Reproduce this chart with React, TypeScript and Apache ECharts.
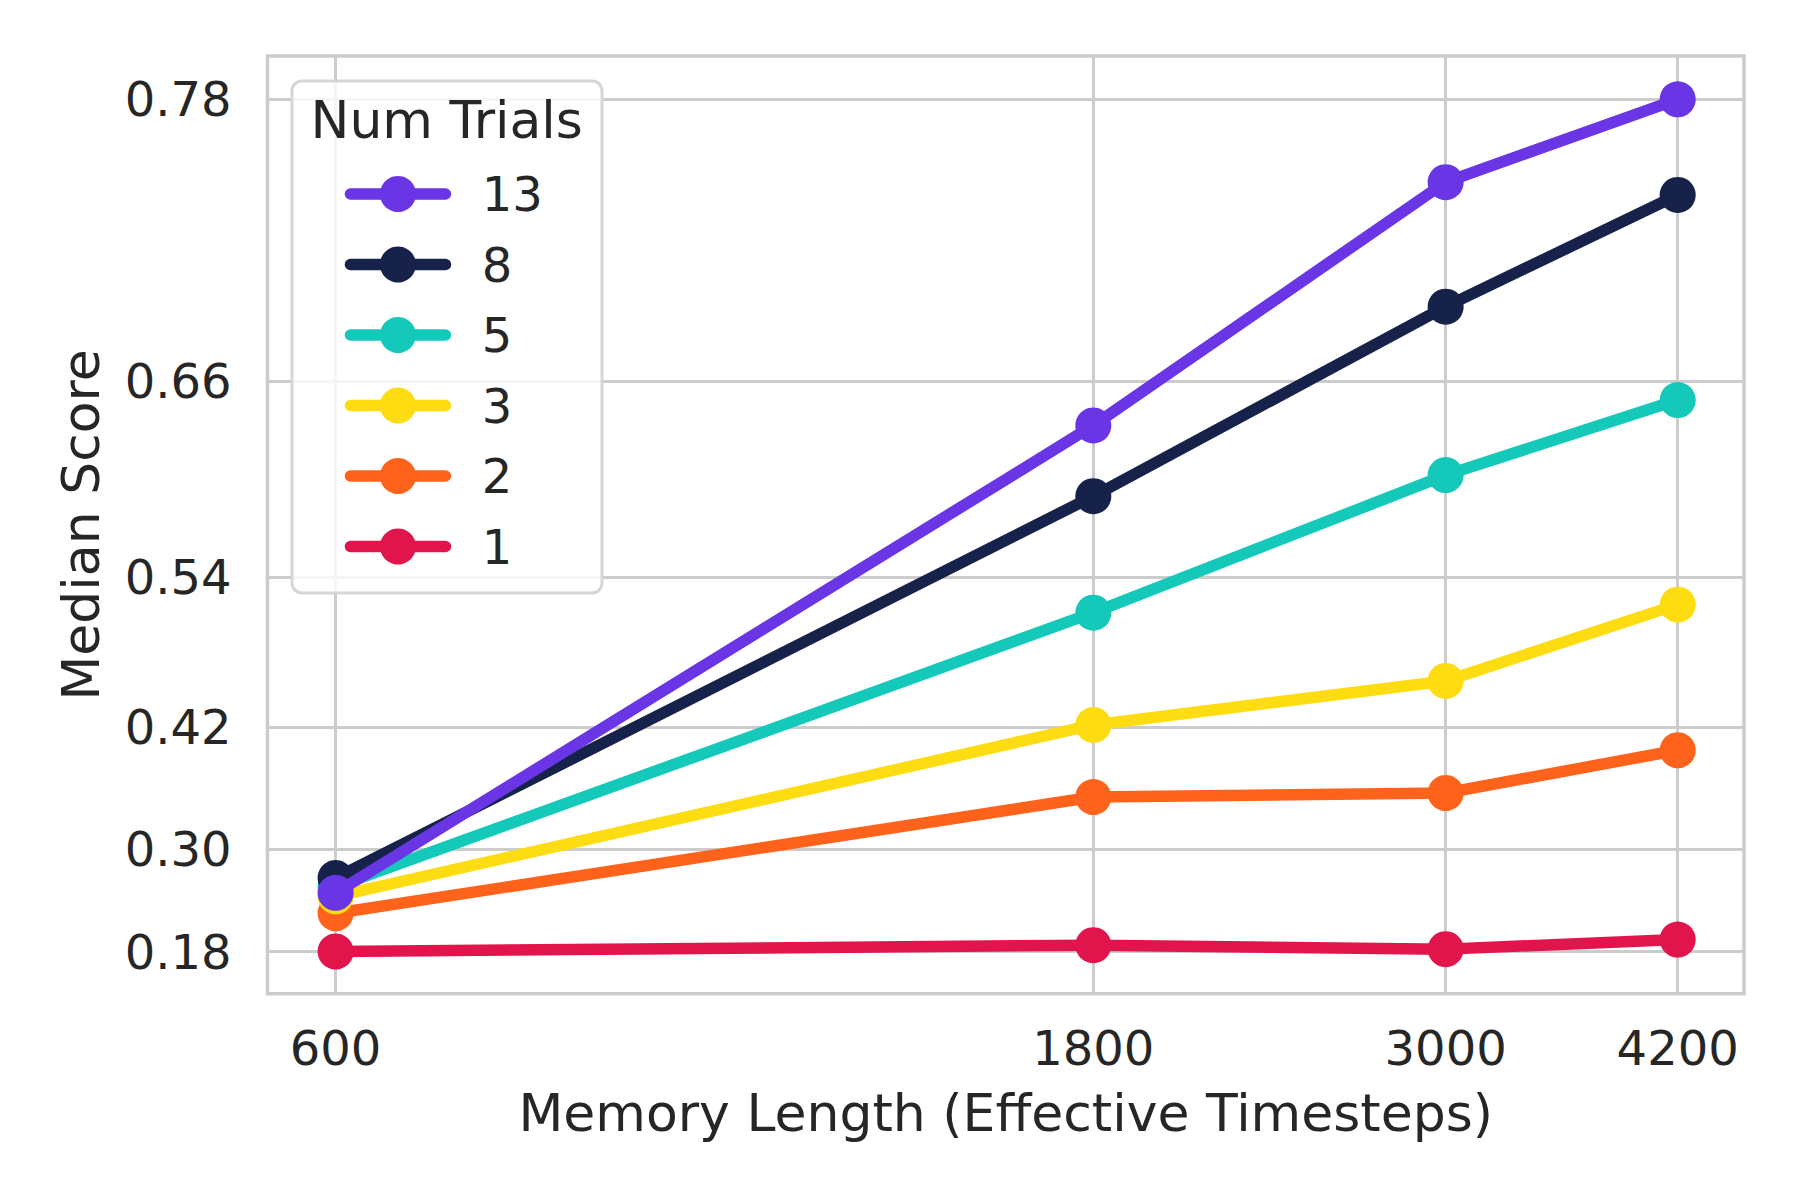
import React, { useEffect, useRef } from "react";
import * as echarts from "echarts";

const xValues = [600, 1800, 3000, 4200];
const xTicks = [600, 1800, 3000, 4200];
const yTicks = [0.18, 0.3, 0.42, 0.54, 0.66, 0.78];

const trials1 = [0.18, 0.188, 0.183, 0.195];
const trials2 = [0.227, 0.354, 0.358, 0.399];
const trials3 = [0.247, 0.422, 0.46, 0.52];
const trials5 = [0.258, 0.514, 0.607, 0.65];
const trials8 = [0.268, 0.594, 0.697, 0.745];
const trials13 = [0.251, 0.636, 0.75, 0.78];

const seriesNames = ["1", "2", "3", "5", "8", "13"];
const seriesValues = [trials1, trials2, trials3, trials5, trials8, trials13];
const seriesColors = ["#E1144B", "#FF621B", "#FEDC12", "#14C9BA", "#16224A", "#6A35E5"];
const legendOrder = ["13", "8", "5", "3", "2", "1"];

// axis scales: log for x, -log(1 - y) for y
const fx = (v: number) => Math.log(v);
const fy = (v: number) => -Math.log(1 - v);

const FONT = "DejaVu Sans";
const TEXT = "#262626";
const GRID = "#cccccc";

export default function App() {
  const ref = useRef<HTMLDivElement>(null);
  useEffect(() => {
    document.body.style.margin = "0";
    const chart = echarts.init(ref.current!, null, { renderer: "svg" });
    const xMin = fx(600) - 68.1 / 689.7;
    const xMax = fx(600) + (1744 - 335.6) / 689.7;
    const yMin = fy(0.18) - 42.2 / 647.7;
    const yMax = fy(0.18) + (951.5 - 56) / 647.7;

    const series = seriesNames.map((name, si) => ({
      name,
      type: "line",
      data: xValues.map((x, i) => [fx(x), fy(seriesValues[si][i])]),
      symbol: "circle",
      symbolSize: 36,
      showSymbol: true,
      lineStyle: { width: 11.5, color: seriesColors[si], cap: "round", join: "round" },
      itemStyle: { color: seriesColors[si] },
      emphasis: { disabled: true },
      z: 2 + si * 0.01,
    }));

    chart.setOption({
      animation: false,
      backgroundColor: "#ffffff",
      textStyle: { fontFamily: FONT },
      grid: {
        left: 267.5,
        right: 56,
        top: 56,
        bottom: 206.3,
        show: true,
        borderColor: GRID,
        borderWidth: 3.5,
        backgroundColor: "transparent",
      },
      xAxis: {
        type: "value",
        min: xMin,
        max: xMax,
        axisLine: { show: false },
        axisTick: { show: false, customValues: xTicks.map(fx) },
        axisLabel: {
          customValues: xTicks.map(fx),
          formatter: (v: number) => String(Math.round(Math.exp(v))),
          fontSize: 48,
          color: TEXT,
          fontFamily: FONT,
          margin: 30,
        },
        splitLine: { show: true, lineStyle: { color: GRID, width: 3 } },
        name: "Memory Length (Effective Timesteps)",
        nameLocation: "middle",
        nameGap: 93,
        nameTextStyle: { fontSize: 52, color: TEXT, fontFamily: FONT },
      },
      yAxis: {
        type: "value",
        min: yMin,
        max: yMax,
        axisLine: { show: false },
        axisTick: { show: false, customValues: yTicks.map(fy) },
        axisLabel: {
          customValues: yTicks.map(fy),
          formatter: (v: number) => (1 - Math.exp(-v)).toFixed(2),
          fontSize: 48,
          color: TEXT,
          fontFamily: FONT,
          margin: 36,
        },
        splitLine: { show: true, lineStyle: { color: GRID, width: 3 } },
        name: "Median Score",
        nameLocation: "middle",
        nameGap: 161,
        nameTextStyle: { fontSize: 52, color: TEXT, fontFamily: FONT },
      },
      legend: {
        data: legendOrder,
        orient: "vertical",
        left: 344.7,
        top: 170,
        padding: 0,
        itemWidth: 95,
        itemHeight: 45,
        itemGap: 22.5,
        lineStyle: { width: 11.5, cap: "round" },
        textStyle: {
          fontSize: 48,
          color: TEXT,
          fontFamily: FONT,
          lineHeight: 45,
          padding: [0, 0, 0, 31.3],
        },
        selectedMode: false,
        z: 6,
      },
      graphic: [
        {
          type: "rect",
          z: 5,
          shape: { x: 292, y: 81, width: 310, height: 512, r: 10 },
          style: { fill: "rgba(255,255,255,0.8)", stroke: "#d6d6d6", lineWidth: 3 },
        },
        {
          type: "text",
          z: 7,
          x: 310.5,
          y: 120,
          style: {
            text: "Num Trials",
            fontSize: 52,
            fontFamily: FONT,
            fill: TEXT,
            verticalAlign: "middle",
            align: "left",
          },
        },
      ],
      series,
    });
    return () => chart.dispose();
  }, []);
  return <div ref={ref} style={{ width: 1800, height: 1200 }} />;
}
